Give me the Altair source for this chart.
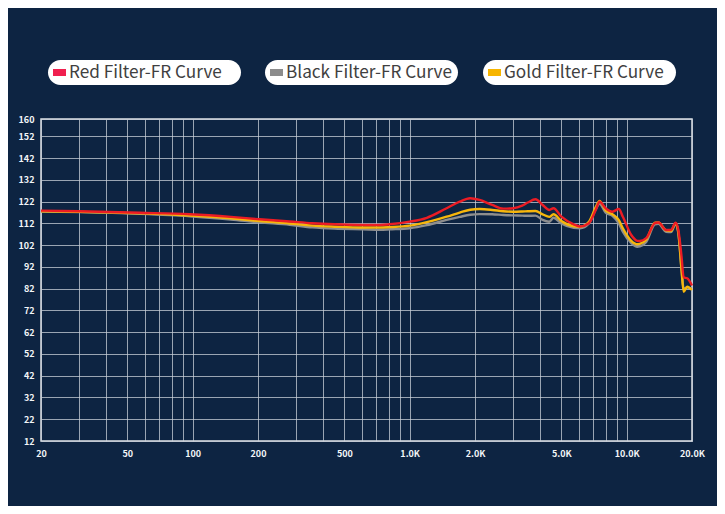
import altair as alt
import pandas as pd

# ---- data ----
freq = [20, 30, 57, 97, 150, 203, 280, 356, 450, 610, 732, 810, 1000, 1200, 1480,
        1700, 1900, 2100, 2400, 2700, 3000, 3300, 3500, 3800, 4100, 4400, 4600, 5000,
        5700, 6100, 6700, 7200, 7500, 8000, 8600, 9200, 9600, 10500, 11200, 11500,
        12300, 13500, 14000, 15200, 16000, 16800, 17300, 17900, 18300, 19000, 20000]

red = [117.9, 117.6, 116.9, 116.2, 115.0, 113.9, 112.9, 112.1, 111.6, 111.3, 111.3, 111.6,
       112.8, 114.6, 119.0, 122.0, 123.6, 122.8, 120.5, 118.8, 119.0, 120.2, 121.6, 123.1,
       120.5, 118.2, 119.0, 115.1, 111.6, 110.6, 112.1, 118.2, 122.0, 119.0, 117.4, 118.6,
       115.1, 106.7, 104.0, 103.9, 105.2, 112.1, 112.4, 109.0, 109.0, 112.3, 109.0, 96.7,
       87.2, 86.8, 83.5]

gold = [117.6, 117.3, 116.6, 115.6, 114.3, 113.1, 112.0, 111.0, 110.5, 110.1, 110.1, 110.3,
        111.0, 112.6, 115.1, 117.0, 118.3, 118.6, 118.2, 117.6, 117.4, 117.5, 117.6, 117.7,
        116.2, 115.0, 116.2, 113.1, 110.7, 110.5, 112.8, 119.5, 122.3, 118.0, 116.2, 113.5,
        109.8, 104.0, 102.4, 102.6, 104.5, 112.3, 112.4, 108.8, 108.5, 112.1, 108.0, 90.6,
        80.6, 82.9, 81.4]

gray = [117.5, 117.2, 116.4, 115.3, 113.8, 112.5, 111.4, 110.2, 109.6, 109.3, 109.1, 109.3,
        109.8, 111.2, 113.6, 115.0, 116.0, 116.3, 116.2, 115.9, 115.7, 115.6, 115.5, 115.6,
        113.6, 112.8, 114.6, 112.0, 110.0, 109.8, 112.0, 118.5, 121.0, 117.0, 115.5, 112.0,
        108.2, 103.0, 101.3, 101.5, 103.5, 111.6, 111.8, 108.2, 108.0, 111.8, 107.5, 91.0,
        82.0, 82.5, 82.0]

series_names = ["Red Filter-FR Curve", "Black Filter-FR Curve", "Gold Filter-FR Curve"]
line_colors = ["#ec1c24", "#8e8e8e", "#f6b60c"]
swatch_colors = ["#f0204f", "#8c8c8c", "#f7b500"]

grid_x = [20, 30, 40, 50, 60, 70, 80, 90, 100, 200, 300, 400, 500, 600, 700, 800, 900,
          1000, 2000, 3000, 4000, 5000, 6000, 7000, 8000, 9000, 10000, 20000]
label_x = [20, 50, 100, 200, 500, 1000, 2000, 5000, 10000, 20000]
y_ticks = [12, 22, 32, 42, 52, 62, 72, 82, 92, 102, 112, 122, 132, 142, 152, 160]

# ---- tables ----
frames = {}
for name, vals in zip(series_names, [red, gray, gold]):
    frames[name] = pd.DataFrame({"freq": freq, "spl": vals, "series": name})

label_list = ",".join(str(v) for v in label_x)
x_label_expr = ("indexof([" + label_list + "], datum.value) < 0 ? '' : "
                "(datum.value >= 1000 ? format(datum.value / 1000, '.1f') + 'K' : format(datum.value, 'd'))")

x_enc = alt.X(
    "freq:Q",
    scale=alt.Scale(type="log", domain=[20, 20000], nice=False),
    axis=alt.Axis(values=grid_x, labelExpr=x_label_expr, title=None, ticks=False,
                  domain=False, grid=True, labelColor="#f2f5f8", labelFontSize=9,
                  labelFontWeight="bold", labelFont="Noto Sans CJK SC", labelPadding=8,
                  labelFlush=False, labelOverlap=False),
)
y_enc = alt.Y(
    "spl:Q",
    scale=alt.Scale(domain=[12, 160], nice=False, zero=False),
    axis=alt.Axis(values=y_ticks, title=None, ticks=False, domain=False, grid=True,
                  labelColor="#f2f5f8", labelFontSize=9, labelFontWeight="bold",
                  labelFont="Noto Sans CJK SC", labelPadding=7, labelOverlap=False),
)

layers = []
# draw order: black (gray), gold, red on top
for idx in [1, 2, 0]:
    name = series_names[idx]
    layers.append(
        alt.Chart(frames[name]).mark_line(
            color=line_colors[idx], strokeWidth=2.4, interpolate="monotone"
        ).encode(x=x_enc, y=y_enc)
    )

# ---- legend pills ----
pill_left = [7, 224, 442]
pill_width = 193
for i, name in enumerate(series_names):
    x0 = pill_left[i]
    ld = pd.DataFrame({"name": [name]})
    layers.append(
        alt.Chart(ld).mark_rect(fill="white", cornerRadius=12.5).encode(
            x=alt.value(x0), x2=alt.value(x0 + pill_width),
            y=alt.value(-59), y2=alt.value(-34))
    )
    layers.append(
        alt.Chart(ld).mark_rect(fill=swatch_colors[i]).encode(
            x=alt.value(x0 + 5), x2=alt.value(x0 + 18),
            y=alt.value(-50), y2=alt.value(-43))
    )
    layers.append(
        alt.Chart(ld).mark_text(align="left", baseline="middle", fontSize=17.2,
                                font="Noto Sans CJK SC", color="#404040").encode(
            x=alt.value(x0 + 21), y=alt.value(-46.5), text="name:N")
    )

chart = alt.layer(*layers).properties(
    width=651, height=322,
    autosize=alt.AutoSizeParams(type="none"),
    padding={"left": 33, "top": 111, "right": 25, "bottom": 65},
    background="#0d2442",
).configure_view(
    stroke="#dfe3e8", strokeWidth=1.5
).configure_axis(
    gridColor="#c9d0da", gridOpacity=0.75, gridWidth=1
)

chart.save("out.html", embed_options={"renderer": "svg", "actions": False})
